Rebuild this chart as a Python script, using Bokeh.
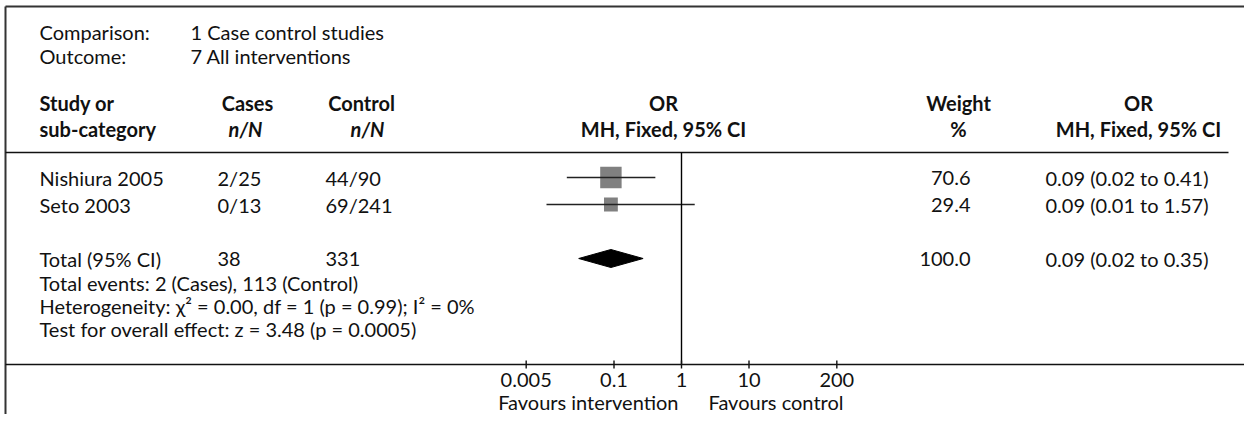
from bokeh.plotting import figure
from bokeh.models import Range1d, LogScale
from bokeh.core.properties import value
from bokeh.embed import file_html
from bokeh.resources import INLINE

# ---------------- data ----------------
comparison_label = "Comparison:"
comparison_text = "1 Case control studies"
outcome_label = "Outcome:"
outcome_text = "7 All interventions"

studies = ["Nishiura 2005", "Seto 2003"]
cases_nN = ["2/25", "0/13"]
control_nN = ["44/90", "69/241"]
or_est = [0.09, 0.09]
or_lo = [0.02, 0.01]
or_hi = [0.41, 1.57]
weights = [70.6, 29.4]
weight_text = ["70.6", "29.4"]
or_text = ["0.09 (0.02 to 0.41)", "0.09 (0.01 to 1.57)"]

total_label = "Total (95% CI)"
total_cases = "38"
total_control = "331"
total_est = 0.09
total_lo_drawn = 0.03   # diamond extent as drawn in the picture
total_hi_drawn = 0.27
total_weight = "100.0"
total_or_text = "0.09 (0.02 to 0.35)"

footnotes = [
    "Total events: 2 (Cases), 113 (Control)",
    "Heterogeneity: \u03c7\u00b2 = 0.00, df = 1 (p = 0.99); I\u00b2 = 0%",
    "Test for overall effect: z = 3.48 (p = 0.0005)",
]

tick_values = [0.005, 0.1, 1, 10, 200]
tick_labels = ["0.005", "0.1", "1", "10", "200"]
null_value = 1
favours_left = "Favours intervention"
favours_right = "Favours control"

# ---------------- layout ----------------
W, H = 1244, 414
X_ONE = 681            # px of OR = 1
PPD = 67.5             # px per decade


def xd(px):
    """pixel -> data value on the log axis"""
    return 10 ** ((px - X_ONE) / PPD)


FONT = value("Lato")
FS = "20px"
INK = "#111111"

p = figure(width=W, height=H,
           x_range=Range1d(xd(0), xd(W)),
           y_range=Range1d(H, 0),
           x_axis_type="log",
           x_axis_location=None, y_axis_location=None,
           toolbar_location=None, output_backend="svg",
           min_border=0, outline_line_color=None)
p.x_scale = LogScale()
p.grid.visible = False
p.background_fill_color = "white"
p.border_fill_color = "white"


def txt(x, y, t, align="left", bold=False, italic=False, size=FS):
    style = "normal"
    if bold and italic:
        style = "bold italic"
    elif bold:
        style = "bold"
    elif italic:
        style = "italic"
    p.text(x=x, y=y, text=t, text_font=FONT, text_font_size=size,
           text_font_style=style, text_align=align, text_baseline="middle",
           text_color=INK)


# border lines (top and left)
p.segment(x0=[xd(5), xd(5)], y0=[6, 6], x1=[xd(W), xd(5)], y1=[6, H],
          line_color="#333333", line_width=2)

# title block
txt([xd(39), xd(39)], [31, 55], [comparison_label, outcome_label])
txt([xd(190), xd(190)], [31, 55], [comparison_text, outcome_text])

# headers
Y_H1, Y_H2 = 102, 128
txt([xd(39), xd(39)], [Y_H1, Y_H2], ["Study or", "sub-category"], bold=True)
txt([xd(247)], [Y_H1], ["Cases"], align="center", bold=True)
txt([xd(245)], [Y_H2], ["n/N"], align="center", bold=True, italic=True)
txt([xd(361)], [Y_H1], ["Control"], align="center", bold=True)
txt([xd(367)], [Y_H2], ["n/N"], align="center", bold=True, italic=True)
txt([xd(663), xd(663)], [Y_H1, Y_H2], ["OR", "MH, Fixed, 95% CI"], align="center", bold=True)
txt([xd(958), xd(958)], [Y_H1, Y_H2], ["Weight", "%"], align="center", bold=True)
txt([xd(1138), xd(1138)], [Y_H1, Y_H2], ["OR", "MH, Fixed, 95% CI"], align="center", bold=True)

# header rule
p.segment(x0=[xd(5)], y0=[152], x1=[xd(1228)], y1=[152], line_color="#111111", line_width=1.6)

# study rows
row_y = [177, 204]
txt([xd(39)] * 2, row_y, studies)
txt([xd(217)] * 2, row_y, cases_nN)
txt([xd(325)] * 2, row_y, control_nN)
txt([xd(970)] * 2, row_y, weight_text, align="right")
txt([xd(1045)] * 2, row_y, or_text)

sizes = [2.55 * w ** 0.5 for w in weights]
p.scatter(x=or_est, y=row_y, marker="square", size=sizes,
          fill_color="#808080", line_color=None)
p.segment(x0=or_lo, y0=row_y, x1=or_hi, y1=row_y, line_color="#222222", line_width=1.4)

# total row
Y_T = 258
txt([xd(39)], [Y_T], [total_label])
txt([xd(217)], [Y_T], [total_cases])
txt([xd(325)], [Y_T], [total_control])
txt([xd(970)], [Y_T], [total_weight], align="right")
txt([xd(1045)], [Y_T], [total_or_text])
p.patch(x=[total_lo_drawn, total_est, total_hi_drawn, total_est],
        y=[Y_T, Y_T - 9, Y_T, Y_T + 9], fill_color="black", line_color="black")

# footnotes
txt([xd(39)] * 3, [282, 305, 328], footnotes)

# null line
p.segment(x0=[null_value], y0=[152], x1=[null_value], y1=[364], line_color="black", line_width=1.4)

# axis
p.segment(x0=[xd(5)], y0=[364], x1=[xd(W)], y1=[364], line_color="#111111", line_width=1.6)
p.segment(x0=tick_values, y0=[360] * len(tick_values), x1=tick_values, y1=[368] * len(tick_values),
          line_color="#111111", line_width=1.4)
txt(tick_values, [379] * len(tick_values), tick_labels, align="center")
txt([xd(678)], [401], [favours_left], align="right")
txt([xd(708)], [401], [favours_right], align="left")

open("out.html", "w").write(file_html(p, INLINE))
